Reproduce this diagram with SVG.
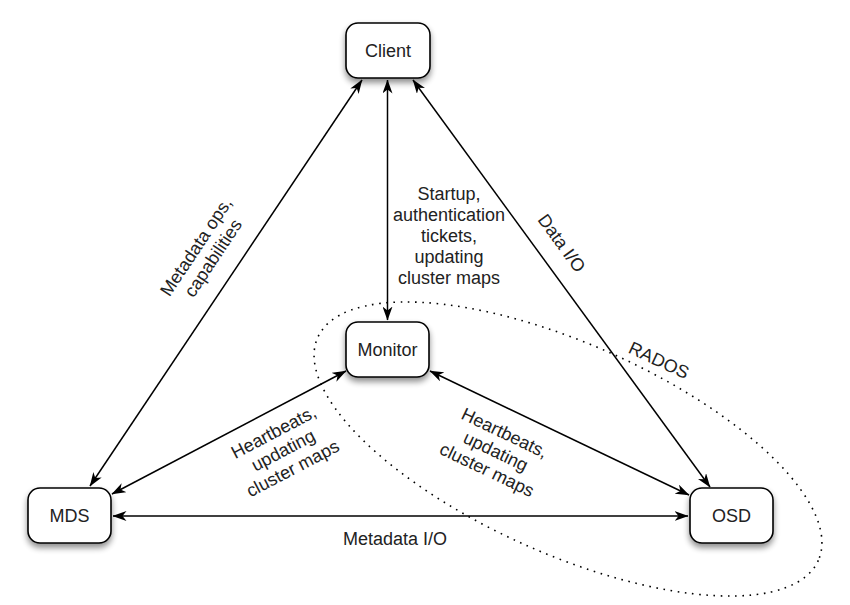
<svg xmlns="http://www.w3.org/2000/svg" width="850" height="605" viewBox="0 0 850 605">
<style>
.node rect{fill:#fff;stroke:#000;stroke-width:1.6;filter:url(#sh)}
.node text,.lbl{font-family:"Liberation Sans",Arial,sans-serif;font-size:18px;fill:#222;text-anchor:middle}
.conn line{stroke:#000;stroke-width:1.5;marker-start:url(#ah);marker-end:url(#ah)}
.rados{fill:none;stroke:#000;stroke-width:1.6;stroke-dasharray:1.6 5.6}
</style>
<defs>
<filter id="sh" x="-30%" y="-30%" width="160%" height="180%">
<feGaussianBlur in="SourceAlpha" stdDeviation="3"/>
<feOffset dx="0" dy="4" result="b"/>
<feComponentTransfer><feFuncA type="linear" slope="0.45"/></feComponentTransfer>
<feMerge><feMergeNode/><feMergeNode in="SourceGraphic"/></feMerge>
</filter>
<marker id="ah" viewBox="0 0 14 10" refX="13.5" refY="5" markerWidth="14" markerHeight="10" markerUnits="userSpaceOnUse" orient="auto-start-reverse">
<path d="M0,0 L14,5 L0,10 L4,5 Z" fill="#000"/>
</marker>
</defs>
<rect width="850" height="605" fill="#fff"/>
<ellipse class="rados" cx="568" cy="449" rx="274" ry="105" transform="rotate(24 568 449)"/>
<g id="connectors" class="conn">
<line x1="362" y1="80" x2="90" y2="486"/>
<line x1="387.5" y1="80" x2="387.5" y2="320"/>
<line x1="413" y1="80" x2="710" y2="487"/>
<line x1="346" y1="371" x2="112" y2="494"/>
<line x1="430" y1="371" x2="689" y2="495"/>
<line x1="113" y1="516" x2="688" y2="516"/>
</g>
<g id="labels">
<text class="lbl" transform="translate(204,252) rotate(-56.4)"><tspan x="0" y="-3.5">Metadata ops,</tspan><tspan x="0" y="17">capabilities</tspan></text>
<text class="lbl"><tspan x="449" y="200">Startup,</tspan><tspan x="449" y="221">authentication</tspan><tspan x="449" y="242">tickets,</tspan><tspan x="449" y="263">updating</tspan><tspan x="449" y="284">cluster maps</tspan></text>
<text class="lbl" transform="translate(562,243) rotate(54)" y="6.5">Data I/O</text>
<text class="lbl" transform="translate(659,360) rotate(25)" y="6.5">RADOS</text>
<text class="lbl" transform="translate(283,450) rotate(-27.7)"><tspan x="0" y="-14">Heartbeats,</tspan><tspan x="0" y="6.5">updating</tspan><tspan x="0" y="27">cluster maps</tspan></text>
<text class="lbl" transform="translate(496,451) rotate(25.6)"><tspan x="0" y="-14">Heartbeats,</tspan><tspan x="0" y="6.5">updating</tspan><tspan x="0" y="27">cluster maps</tspan></text>
<text class="lbl" x="395" y="545">Metadata I/O</text>
</g>
<g id="client" class="node"><rect x="346" y="23" width="84" height="55" rx="12"/><text x="388" y="57">Client</text></g>
<g id="monitor" class="node"><rect x="346" y="322" width="83" height="55" rx="12"/><text x="387.5" y="356">Monitor</text></g>
<g id="mds" class="node"><rect x="28" y="488" width="83" height="55" rx="12"/><text x="69.5" y="522">MDS</text></g>
<g id="osd" class="node"><rect x="690" y="488" width="83" height="55" rx="12"/><text x="731.5" y="522">OSD</text></g>
</svg>
